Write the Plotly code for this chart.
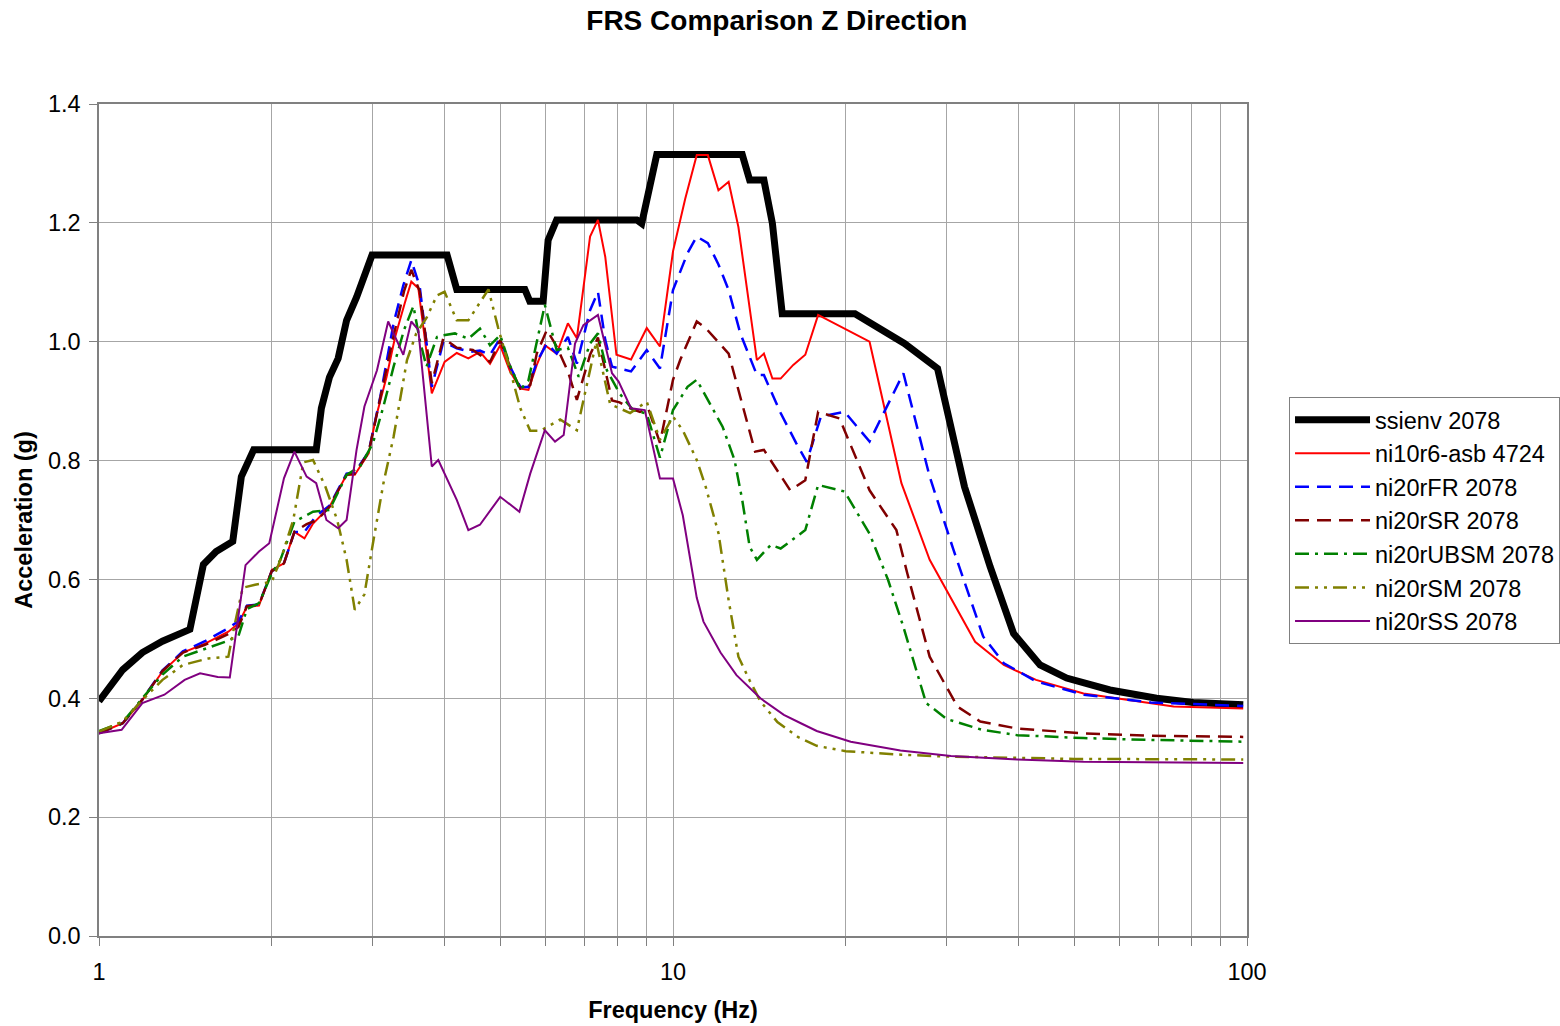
import plotly.graph_objects as go

# ---------------- data ----------------
f_env = [1.0, 1.10, 1.19, 1.29, 1.44, 1.52, 1.60, 1.71, 1.77, 1.86, 2.39, 2.44, 2.52, 2.61, 2.70, 2.81, 2.99,
         4.04, 4.20, 5.52, 5.63, 5.94, 6.06, 6.27, 8.65, 8.82, 9.37, 13.2, 13.6, 14.4, 14.9, 15.5, 20.75,
         25.3, 28.9, 32.2, 35.7, 39.2, 43.6, 48.5, 57.7, 69.6, 80.6, 98.5]
a_env = [0.395, 0.448, 0.477, 0.496, 0.516, 0.625, 0.647, 0.664, 0.773, 0.818, 0.818, 0.888, 0.940, 0.972,
         1.036, 1.075, 1.146, 1.146, 1.088, 1.088, 1.068, 1.068, 1.171, 1.205, 1.205, 1.199, 1.315, 1.315,
         1.272, 1.272, 1.199, 1.047, 1.047, 0.997, 0.955, 0.756, 0.621, 0.509, 0.456, 0.434, 0.414, 0.400,
         0.393, 0.389]

f_asb = [1.0, 1.1, 1.19, 1.29, 1.40, 1.53, 1.68, 1.75, 1.81, 1.90, 2.0, 2.10, 2.19, 2.28, 2.36, 2.52, 2.70,
         2.79, 2.95, 3.04, 3.17, 3.28, 3.41, 3.50, 3.60, 3.80, 4.0, 4.20, 4.40, 4.61, 4.80, 5.0, 5.20, 5.42,
         5.60, 5.79, 5.98, 6.27, 6.56, 6.80, 7.17, 7.40, 7.62, 7.97, 8.45, 9.0, 9.49, 10.0, 10.5, 11.0, 11.5,
         12.0, 12.5, 13.0, 14.0, 14.4, 14.9, 15.4, 16.2, 17.0, 17.9, 22.0, 25.0, 28.0, 33.6, 37.7, 42.9,
         51.9, 67.6, 74.5, 98.5]
a_asb = [0.341, 0.358, 0.397, 0.445, 0.477, 0.492, 0.512, 0.526, 0.554, 0.556, 0.616, 0.627, 0.680, 0.669,
         0.694, 0.722, 0.776, 0.776, 0.812, 0.874, 0.941, 1.008, 1.065, 1.101, 1.090, 0.913, 0.966, 0.981,
         0.972, 0.983, 0.963, 0.994, 0.950, 0.921, 0.919, 0.961, 0.994, 0.980, 1.031, 1.006, 1.177, 1.205,
         1.143, 0.978, 0.970, 1.023, 0.992, 1.152, 1.240, 1.314, 1.314, 1.255, 1.269, 1.193, 0.969, 0.980,
         0.938, 0.938, 0.961, 0.978, 1.045, 1.000, 0.762, 0.633, 0.495, 0.456, 0.431, 0.408, 0.392, 0.386,
         0.383]

f_fr = [1.0, 1.1, 1.19, 1.29, 1.40, 1.53, 1.68, 1.75, 1.81, 1.90, 2.0, 2.10, 2.19, 2.28, 2.39, 2.52, 2.70,
        2.79, 2.95, 3.09, 3.26, 3.39, 3.50, 3.62, 3.80, 3.98, 4.20, 4.43, 4.61, 4.80, 5.0, 5.20, 5.42, 5.60,
        5.79, 6.03, 6.27, 6.56, 6.80, 7.17, 7.40, 7.62, 7.83, 8.45, 9.0, 9.49, 10.0, 10.6, 11.0, 11.5, 12.0,
        12.5, 13.1, 14.0, 14.4, 15.4, 16.4, 17.1, 18.1, 19.9, 22.0, 25.2, 28.0, 30.8, 34.7, 37.7, 43.0,
        52.0, 68.0, 98.5]
a_fr = [0.341, 0.358, 0.398, 0.447, 0.479, 0.496, 0.518, 0.530, 0.556, 0.558, 0.614, 0.627, 0.680, 0.680,
        0.707, 0.724, 0.778, 0.780, 0.815, 0.907, 1.031, 1.095, 1.137, 1.093, 0.924, 1.000, 0.989, 0.983,
        0.985, 0.978, 1.006, 0.958, 0.924, 0.924, 0.966, 0.997, 0.980, 1.008, 0.963, 1.053, 1.084, 1.003,
        0.958, 0.950, 0.986, 0.955, 1.087, 1.149, 1.177, 1.166, 1.130, 1.087, 1.014, 0.944, 0.944, 0.880,
        0.829, 0.798, 0.874, 0.882, 0.832, 0.947, 0.773, 0.650, 0.504, 0.459, 0.428, 0.406, 0.393, 0.387]

f_sr = [1.0, 1.1, 1.19, 1.29, 1.40, 1.53, 1.68, 1.75, 1.81, 1.90, 2.0, 2.10, 2.19, 2.30, 2.40, 2.52, 2.70,
        2.79, 2.95, 3.09, 3.26, 3.40, 3.50, 3.62, 3.80, 3.98, 4.20, 4.48, 4.80, 5.0, 5.20, 5.42, 5.64, 5.79,
        6.03, 6.27, 6.56, 6.80, 7.17, 7.40, 7.62, 7.83, 8.07, 8.42, 8.76, 9.05, 9.49, 10.0, 10.3, 11.0, 11.4,
        12.5, 13.1, 13.9, 14.4, 16.0, 17.0, 17.9, 19.5, 22.0, 24.5, 25.6, 28.0, 31.3, 34.3, 39.8, 51.9,
        67.6, 98.5]
a_sr = [0.341, 0.358, 0.398, 0.446, 0.477, 0.490, 0.508, 0.520, 0.555, 0.557, 0.614, 0.627, 0.680, 0.693,
        0.700, 0.722, 0.776, 0.778, 0.814, 0.905, 1.010, 1.085, 1.121, 1.085, 0.930, 1.006, 0.990, 0.986,
        0.966, 1.003, 0.958, 0.921, 0.927, 0.980, 1.020, 0.992, 0.950, 0.902, 0.978, 1.007, 0.953, 0.901,
        0.898, 0.888, 0.882, 0.888, 0.830, 0.936, 0.970, 1.034, 1.023, 0.980, 0.907, 0.815, 0.818, 0.750,
        0.767, 0.882, 0.871, 0.750, 0.683, 0.610, 0.470, 0.386, 0.361, 0.349, 0.341, 0.337, 0.335]

f_ubsm = [1.0, 1.1, 1.19, 1.29, 1.40, 1.53, 1.68, 1.75, 1.81, 1.90, 2.0, 2.07, 2.19, 2.36, 2.52, 2.70, 2.85,
          3.0, 3.13, 3.26, 3.40, 3.53, 3.62, 3.72, 3.88, 3.98, 4.17, 4.40, 4.61, 4.80, 5.0, 5.20, 5.42, 5.60,
          5.98, 6.27, 6.56, 6.85, 7.17, 7.40, 7.67, 8.07, 8.52, 9.0, 9.49, 10.0, 10.6, 11.0, 12.2, 12.8,
          13.2, 13.6, 14.0, 14.8, 15.4, 17.0, 17.9, 19.9, 22.0, 23.7, 25.2, 27.6, 30.0, 34.5, 39.8, 51.9,
          67.6, 98.5]
a_ubsm = [0.345, 0.360, 0.400, 0.440, 0.470, 0.483, 0.497, 0.505, 0.550, 0.560, 0.610, 0.633, 0.697, 0.714,
          0.717, 0.776, 0.790, 0.829, 0.891, 0.958, 1.020, 1.060, 1.003, 0.958, 1.008, 1.011, 1.014, 1.005,
          1.022, 0.994, 1.011, 0.960, 0.919, 0.935, 1.062, 0.986, 0.990, 0.941, 0.997, 1.014, 0.952, 0.913,
          0.885, 0.879, 0.805, 0.885, 0.924, 0.936, 0.857, 0.801, 0.734, 0.655, 0.633, 0.658, 0.652, 0.683,
          0.759, 0.748, 0.677, 0.599, 0.520, 0.392, 0.365, 0.347, 0.338, 0.333, 0.330, 0.327]

f_sm = [1.0, 1.1, 1.19, 1.29, 1.40, 1.55, 1.68, 1.72, 1.78, 1.87, 2.0, 2.08, 2.18, 2.27, 2.36, 2.48, 2.60,
        2.70, 2.79, 2.90, 3.0, 3.13, 3.26, 3.44, 3.57, 3.72, 3.88, 4.0, 4.20, 4.40, 4.77, 4.96, 5.20, 5.42,
        5.64, 5.87, 6.36, 6.80, 7.35, 7.77, 8.42, 9.0, 9.49, 10.0, 10.4, 11.0, 11.4, 12.0, 12.3, 12.5, 13.0,
        13.6, 14.2, 15.2, 16.5, 17.8, 20.0, 25.0, 30.0, 50.0, 98.5]
a_sm = [0.344, 0.361, 0.397, 0.431, 0.456, 0.467, 0.470, 0.520, 0.586, 0.591, 0.596, 0.638, 0.700, 0.797,
        0.801, 0.756, 0.700, 0.633, 0.549, 0.575, 0.660, 0.762, 0.840, 0.969, 1.014, 1.040, 1.078, 1.084,
        1.036, 1.036, 1.088, 1.023, 0.953, 0.888, 0.850, 0.850, 0.869, 0.851, 1.000, 0.895, 0.880, 0.899,
        0.835, 0.874, 0.851, 0.801, 0.756, 0.678, 0.610, 0.565, 0.470, 0.430, 0.395, 0.360, 0.335, 0.320,
        0.311, 0.305, 0.302, 0.298, 0.297]

f_ss = [1.0, 1.095, 1.19, 1.30, 1.41, 1.50, 1.61, 1.69, 1.80, 1.90, 1.98, 2.10, 2.19, 2.30, 2.39, 2.49, 2.61,
        2.70, 2.81, 2.90, 3.05, 3.19, 3.39, 3.50, 3.60, 3.80, 3.90, 4.20, 4.40, 4.61, 5.0, 5.40, 5.64, 5.98,
        6.23, 6.45, 6.75, 6.98, 7.40, 7.83, 8.04, 8.45, 8.93, 9.49, 10.0, 10.4, 11.0, 11.3, 12.1, 12.9,
        14.2, 15.6, 16.7, 17.8, 20.4, 24.9, 30.5, 39.8, 51.9, 98.5]
a_ss = [0.341, 0.347, 0.392, 0.406, 0.431, 0.442, 0.436, 0.435, 0.624, 0.647, 0.661, 0.770, 0.815, 0.773,
        0.762, 0.700, 0.686, 0.700, 0.818, 0.891, 0.952, 1.034, 0.978, 1.034, 1.020, 0.790, 0.801, 0.734,
        0.683, 0.692, 0.739, 0.714, 0.778, 0.851, 0.832, 0.843, 0.997, 1.028, 1.045, 0.947, 0.933, 0.888,
        0.885, 0.770, 0.770, 0.708, 0.569, 0.529, 0.477, 0.439, 0.400, 0.372, 0.358, 0.345, 0.327, 0.312,
        0.303, 0.297, 0.293, 0.291]

series_names = ["ssienv 2078", "ni10r6-asb 4724", "ni20rFR 2078", "ni20rSR 2078",
                "ni20rUBSM 2078", "ni20rSM 2078", "ni20rSS 2078"]

x_tick_vals = [1, 2, 3, 4, 5, 6, 7, 8, 9, 10, 20, 30, 40, 50, 60, 70, 80, 90, 100]
x_tick_text = ["1", "", "", "", "", "", "", "", "", "10", "", "", "", "", "", "", "", "", "100"]
y_tick_vals = [0.0, 0.2, 0.4, 0.6, 0.8, 1.0, 1.2, 1.4]

# ---------------- figure ----------------
FONT = "Liberation Sans, Arial, sans-serif"
styles = [
    dict(color="#000000", width=7, dash="solid"),
    dict(color="#FF0000", width=2, dash="solid"),
    dict(color="#0000FF", width=2.5, dash="14px,8px"),
    dict(color="#800000", width=2.5, dash="14px,8px"),
    dict(color="#008000", width=2.5, dash="14px,6px,3px,6px"),
    dict(color="#808000", width=2.5, dash="14px,6px,3px,6px,3px,6px"),
    dict(color="#800080", width=2, dash="solid"),
]
xs = [f_env, f_asb, f_fr, f_sr, f_ubsm, f_sm, f_ss]
ys = [a_env, a_asb, a_fr, a_sr, a_ubsm, a_sm, a_ss]

fig = go.Figure()
for name, x, y, st in zip(series_names, xs, ys, styles):
    fig.add_trace(go.Scatter(x=x, y=y, mode="lines", name=name, line=st))

fig.update_layout(
    width=1560, height=1026,
    paper_bgcolor="white", plot_bgcolor="white",
    margin=dict(l=99, r=313, t=104, b=90, autoexpand=False),
    font=dict(family=FONT, size=23.5, color="black"),
    title=dict(text="<b>FRS Comparison Z Direction</b>", x=0.498, xanchor="center",
               y=0.9805, yanchor="middle", font=dict(size=28, family=FONT)),
    legend=dict(x=1.0366, xanchor="left", y=0.648, yanchor="top",
                bordercolor="#808080", borderwidth=1, bgcolor="white",
                font=dict(size=23.5, family=FONT), itemwidth=75, tracegroupgap=0),
    showlegend=True,
)
fig.update_xaxes(
    type="log", range=[0, 2], tickvals=x_tick_vals, ticktext=x_tick_text,
    showgrid=True, gridcolor="#A6A6A6", gridwidth=1,
    showline=True, linecolor="#808080", linewidth=1.5, mirror=True,
    ticks="outside", ticklen=8, tickcolor="#808080", ticklabelstandoff=6,
    title=dict(text="<b>Frequency (Hz)</b>", font=dict(size=23.5), standoff=18),
    zeroline=False, automargin=False,
)
fig.update_yaxes(
    range=[0, 1.4], tickvals=y_tick_vals, tickformat=".1f",
    showgrid=True, gridcolor="#A6A6A6", gridwidth=1,
    showline=True, linecolor="#808080", linewidth=1.5, mirror=True,
    ticks="outside", ticklen=8, tickcolor="#808080", ticklabelstandoff=4,
    title=dict(text="<b>Acceleration (g)</b>", font=dict(size=23.5), standoff=9),
    zeroline=False, automargin=False,
)

# remove the browser's default page margin so the figure starts at the window's corner
fig.write_html("out.html", config={"displayModeBar": False},
               post_script="document.body.style.margin='0';")
